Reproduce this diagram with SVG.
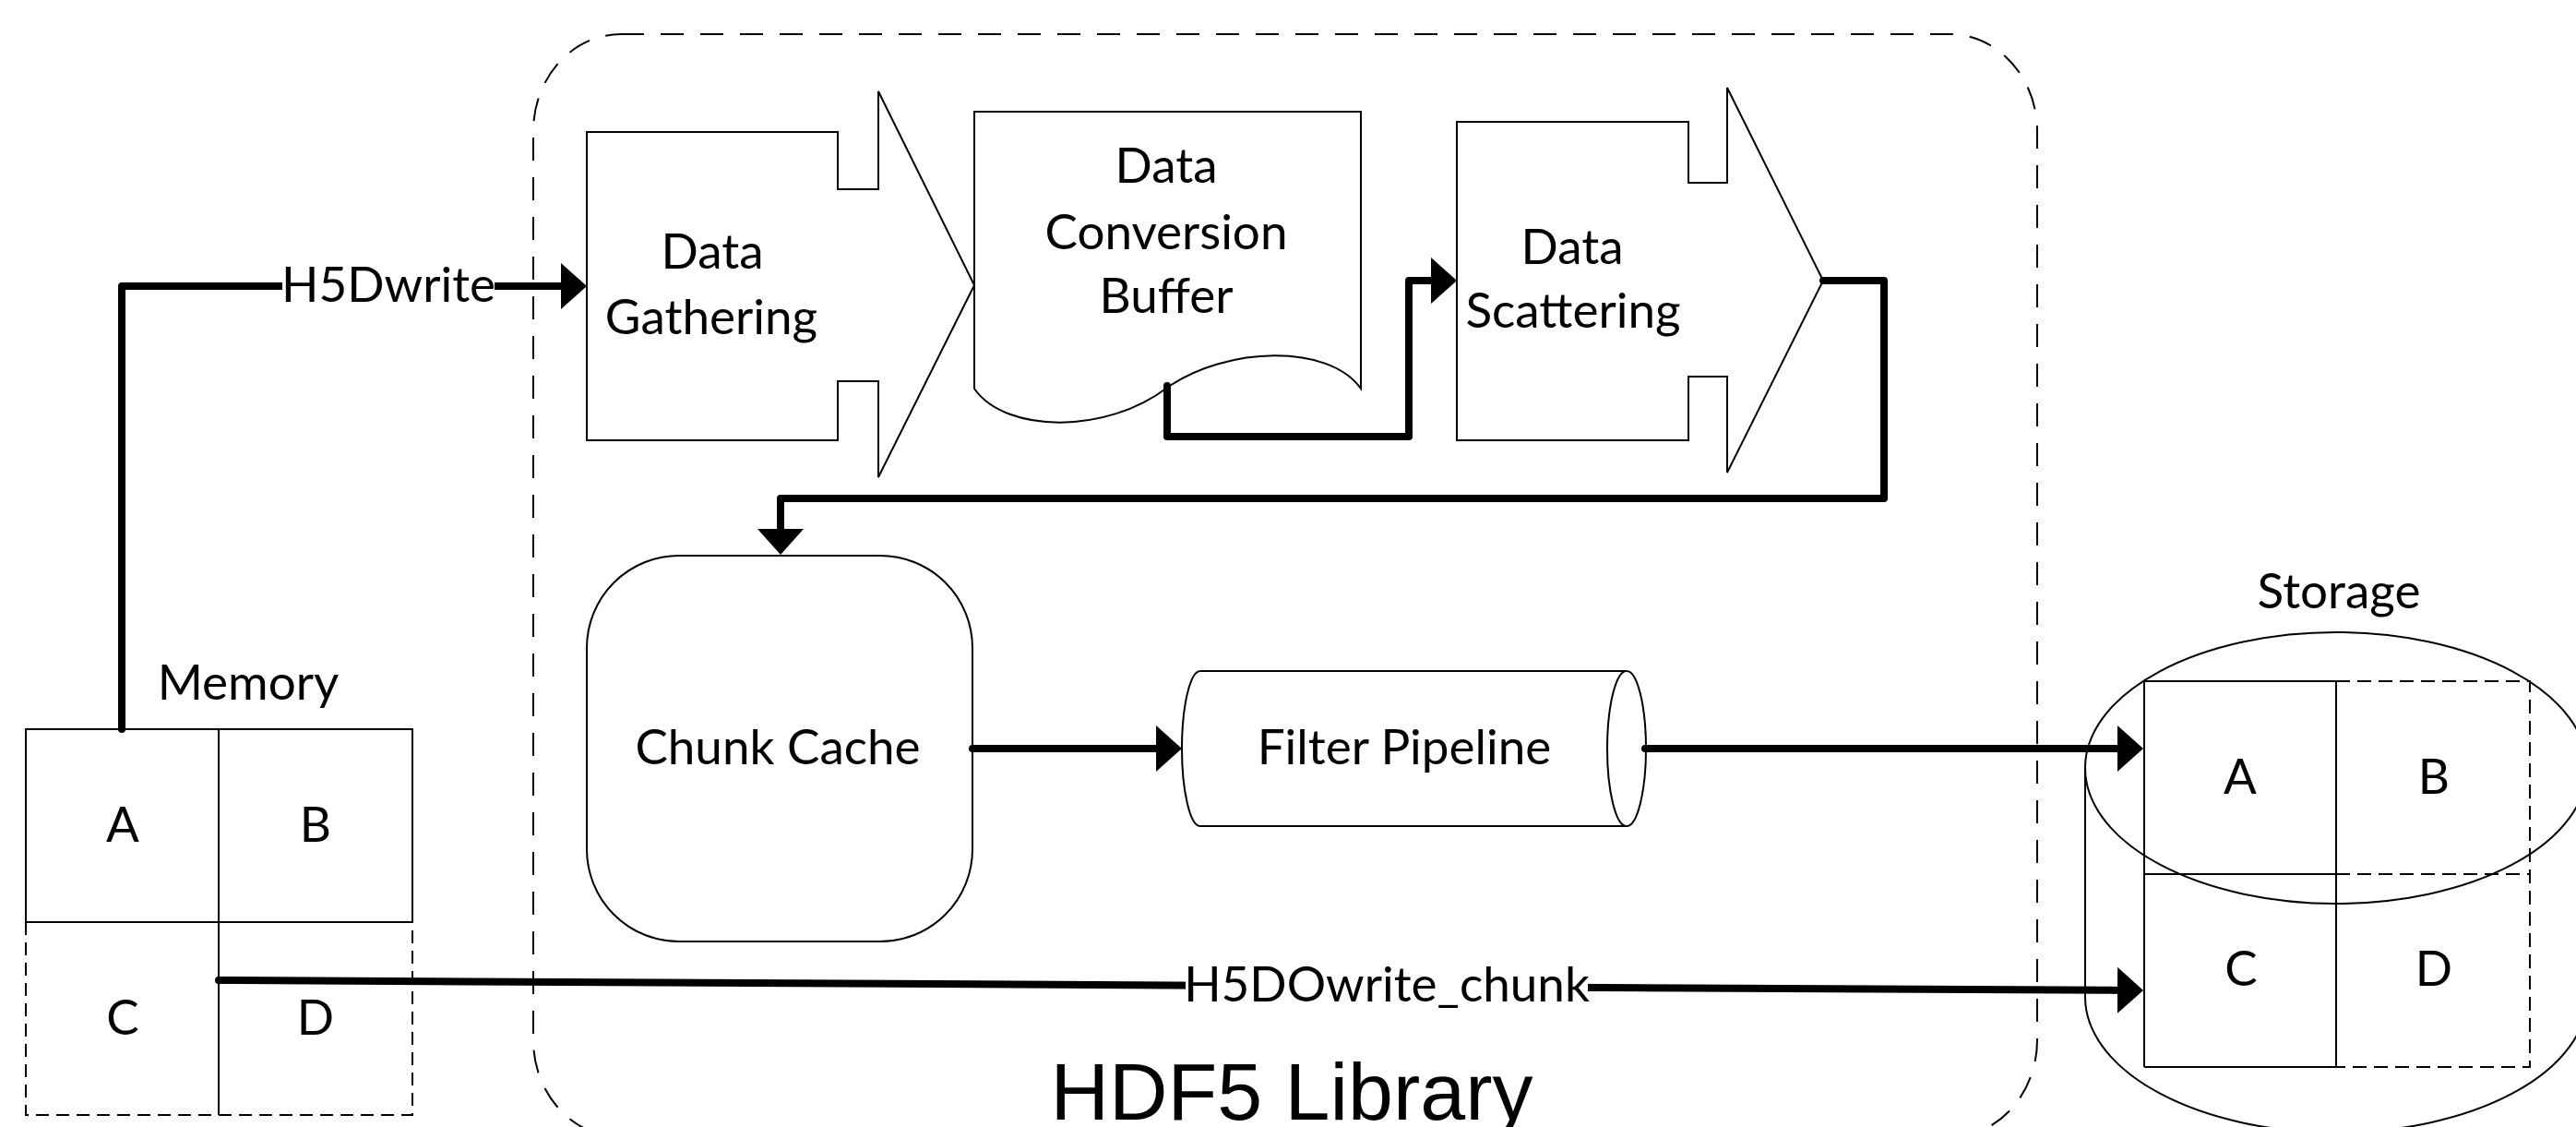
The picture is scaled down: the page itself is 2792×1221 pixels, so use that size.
<svg xmlns="http://www.w3.org/2000/svg" width="2792" height="1221" viewBox="0 0 2792 1221">
<style>
.shape{fill:#fff;stroke:#000;stroke-width:2}
.line{fill:none;stroke:#000;stroke-width:2}
.dash{fill:none;stroke:#000;stroke-width:2;stroke-dasharray:15 8}
.conn{fill:none;stroke:#000;stroke-width:8;stroke-linejoin:round;stroke-linecap:round}
.lbl{font-family:Lato,"Open Sans",sans-serif;font-size:53px;fill:#000;text-anchor:middle}
.title{font-family:"Liberation Sans",Arial,sans-serif;font-size:88px;fill:#000;text-anchor:middle}
</style>
<defs>
<marker id="arr" viewBox="0 0 28 50" refX="8" refY="25" markerWidth="28" markerHeight="50" markerUnits="userSpaceOnUse" orient="auto">
<path d="M0,0 L28,25 L0,50 Z" fill="#000"/>
</marker>
</defs>
<rect width="2792" height="1221" fill="#fff"/>

<g id="hdf5-library">
<rect x="578" y="37" width="1630" height="1195" rx="95" ry="105" fill="none" stroke="#000" stroke-width="2" stroke-dasharray="25 18"/>
<text class="title" x="1400" y="1213">HDF5 Library</text>
</g>

<g id="data-gathering">
<polygon class="shape" points="636,143 908,143 908,205 952,205 952,99 1056,309 952,517 952,413 908,413 908,477 636,477"/>
<text class="lbl" x="772" y="291">Data</text>
<text class="lbl" x="771" y="362">Gathering</text>
</g>

<g id="data-conversion-buffer">
<path class="shape" d="M1056,121 L1475,121 L1475,421 C1440,372 1330,375 1265,420 C1200,470 1090,470 1056,421 Z"/>
<text class="lbl" x="1264" y="198">Data</text>
<text class="lbl" x="1264" y="270">Conversion</text>
<text class="lbl" x="1264" y="339">Buffer</text>
</g>

<g id="data-scattering">
<polygon class="shape" points="1579,132 1830,132 1830,198 1872,198 1872,95 1976,304 1872,512 1872,408 1830,408 1830,477 1579,477"/>
<text class="lbl" x="1704" y="286">Data</text>
<text class="lbl" x="1705" y="355">Scattering</text>
</g>

<g id="chunk-cache">
<rect class="shape" x="636" y="602" width="418" height="418" rx="100" ry="100"/>
<text class="lbl" x="843" y="828">Chunk Cache</text>
</g>

<g id="filter-pipeline">
<path class="shape" d="M1301,727 L1763,727 A21,84 0 0 1 1763,895 L1301,895 A20,84 0 0 1 1301,727 Z"/>
<path class="line" d="M1763,727 A21,84 0 0 0 1763,895"/>
<text class="lbl" x="1522" y="828">Filter Pipeline</text>
</g>

<g id="memory">
<text class="lbl" x="269" y="758">Memory</text>
<rect class="line" x="28" y="790" width="419" height="209"/>
<path class="line" d="M237,790 L237,1208"/>
<path class="dash" style="stroke-dasharray:14 8" d="M28,999 L28,1208 L447,1208 L447,999"/>
<text class="lbl" x="133" y="912">A</text>
<text class="lbl" x="342" y="912">B</text>
<text class="lbl" x="133" y="1121">C</text>
<text class="lbl" x="342" y="1121">D</text>
</g>

<g id="storage">
<text class="lbl" x="2535" y="659">Storage</text>
<ellipse class="line" cx="2532" cy="832" rx="272" ry="147"/>
<path class="line" d="M2260,832 L2260,1080 A272,147 0 0 0 2804,1080"/>
<path class="line" d="M2324,1156 L2324,738 L2532,738 M2532,738 L2532,1156 M2324,947 L2532,947 M2324,1156 L2532,1156"/>
<path class="dash" d="M2532,738 L2742,738 L2742,1156 L2532,1156 M2532,947 L2742,947"/>
<text class="lbl" x="2428" y="860">A</text>
<text class="lbl" x="2638" y="860">B</text>
<text class="lbl" x="2429" y="1068">C</text>
<text class="lbl" x="2638" y="1068">D</text>
</g>

<g id="connectors">
<path class="conn" marker-end="url(#arr)" d="M132,790 L132,310 L616,310"/>
<rect x="306" y="286" width="230" height="50" fill="#fff"/>
<text class="lbl" x="421" y="327">H5Dwrite</text>
<path class="conn" marker-end="url(#arr)" d="M1265,418 L1265,473 L1527,473 L1527,304 L1559,304"/>
<path class="conn" marker-end="url(#arr)" d="M1976,304 L2042,304 L2042,540 L846,540 L846,581"/>
<path class="conn" marker-end="url(#arr)" d="M1054,811 L1261,811"/>
<path class="conn" marker-end="url(#arr)" d="M1783,811 L2303,811"/>
<path class="conn" marker-end="url(#arr)" d="M237,1062 L2303,1072.9"/>
<rect x="1285" y="1042" width="436" height="60" fill="#fff"/>
<text class="lbl" x="1503" y="1085">H5DOwrite_chunk</text>
</g>
</svg>
